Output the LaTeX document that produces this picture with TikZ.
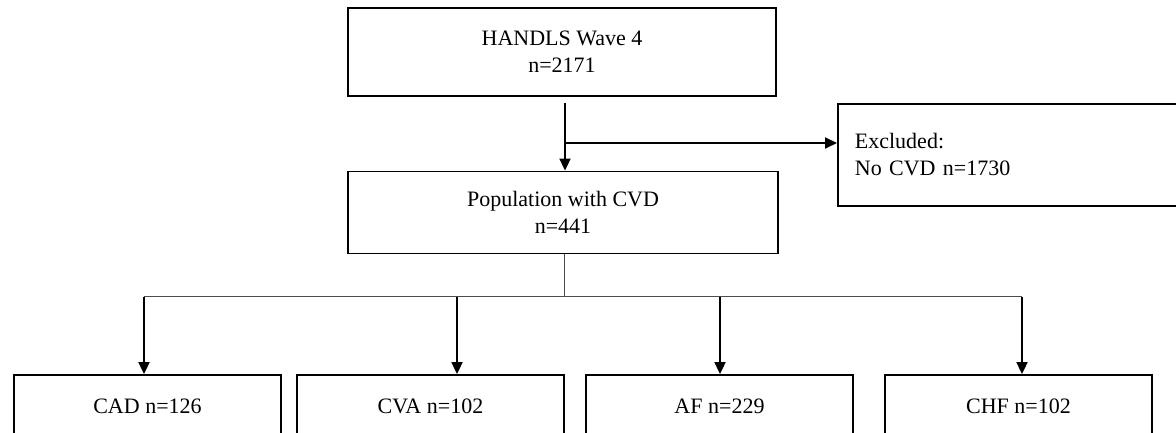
\documentclass[tikz,border=0pt]{standalone}
\usepackage{fontspec}
\setmainfont{Liberation Serif}
\usetikzlibrary{arrows.meta}
\begin{document}
\begin{tikzpicture}[x=1bp,y=-1bp,
  box/.style={draw=black,line width=1.8bp,align=center,inner sep=0pt,
    font=\fontsize{22bp}{27bp}\selectfont},
  arr/.style={line width=1.8bp,-{Triangle[width=11bp,length=12bp]}},
  bus/.style={draw=black!70,line width=1bp}]
\useasboundingbox (0,0) rectangle (1176,433);
\clip (0,0) rectangle (1176,433);
\fill[white] (0,0) rectangle (1176,433);
\node[box,minimum width=428bp,minimum height=88bp] (top) at (562,52) {HANDLS Wave 4\\n=2171};
\node[box,minimum width=430bp,minimum height=82bp] (mid) at (563,212.5) {Population with CVD\\n=441};
\node[box,anchor=west,minimum width=380bp,minimum height=102bp,text width=346bp,align=left,inner xsep=17bp] (exc) at (837,155) {Excluded:\\No CVD n=1730};
\node[box,minimum width=267bp,minimum height=62bp] (cad) at (147.5,406) {CAD n=126};
\node[box,minimum width=267bp,minimum height=62bp] (cva) at (430.5,406) {CVA n=102};
\node[box,minimum width=267bp,minimum height=62bp] (af) at (719.5,406) {AF n=229};
\node[box,minimum width=267bp,minimum height=62bp] (chf) at (1018.5,406) {CHF n=102};
\coordinate (a1) at (565,103);
\coordinate (br) at (565,143);
\draw[arr] (a1) -- (a1 |- mid.north);
\draw[arr] (br) -- (br -| exc.west);
\coordinate (hub) at (564,297);
\coordinate (b1) at (144,297);
\coordinate (b2) at (457,297);
\coordinate (b3) at (720,297);
\coordinate (b4) at (1022,297);
\draw[bus] (hub |- mid.south) -- (hub);
\draw[bus] (b1) -- (b4);
\draw[arr] (b1) -- (b1 |- cad.north);
\draw[arr] (b2) -- (b2 |- cva.north);
\draw[arr] (b3) -- (b3 |- af.north);
\draw[arr] (b4) -- (b4 |- chf.north);
\end{tikzpicture}
\end{document}
